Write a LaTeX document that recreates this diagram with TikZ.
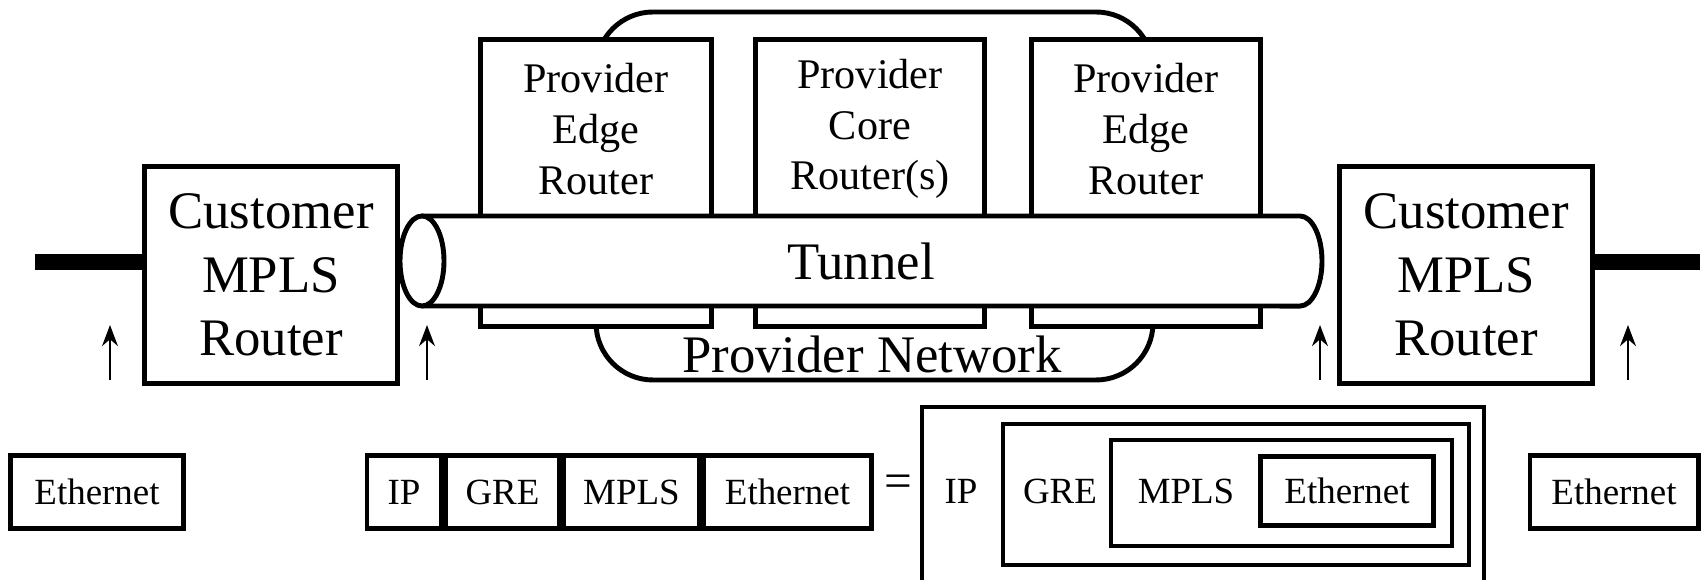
\documentclass[tikz,border=0pt]{standalone}
\usepackage{fontspec}
\setmainfont{Liberation Serif}
\usetikzlibrary{positioning,arrows.meta}

\begin{document}
\begin{tikzpicture}[x=0.01cm,y=-0.01cm,
    line/.style={line width=1.4pt},
    box/.style={draw,line width=1.4pt,fill=white,inner sep=0pt},
    big/.style={font=\fontsize{15}{18}\selectfont,align=center},
    mid/.style={font=\fontsize{12}{14.4}\selectfont,align=center},
    small/.style={font=\fontsize{10.5}{12.6}\selectfont},
    cell/.style={box,small,minimum height=0.73cm},
    wire/.style={line width=4.3pt},
    arr/.style={line width=0.7pt,-{Stealth[length=6pt,width=4.5pt]}}]
		\clip (0,0) rectangle (1705,580);
		% provider network
		\draw [line, rounded corners=0.57cm] (596,12) rectangle (1153,380);
		\node [big] (pntext) at (872,354) {Provider Network};
		
		\node [box, minimum width=2.30cm, minimum height=2.86cm] (pe1) at (596,183) {};
		\node [box, minimum width=2.28cm, minimum height=2.86cm] (pc) at (870,183) {};
		\node [box, minimum width=2.28cm, minimum height=2.86cm] (pe2) at (1146,183) {};
		\node [mid] (pe1text) at (596,129) {Provider\\Edge\\Router};
		\node [mid] (pctext) at (870,129) {Provider\\Core\\Router(s)};
		\node [mid] (pe2text) at (1146,129) {Provider\\Edge\\Router};
		
		% tunnel
		\fill [white] (422,216) rectangle (1300,306);
		\draw [line] (422,216) -- (1300,216) arc [start angle=90, end angle=-90, x radius=0.22cm, y radius=0.45cm] -- (422,306);
		\draw [line, fill=white] (422,261) ellipse [x radius=0.22cm, y radius=0.45cm];
		\node [big] (tuntext) at (861,261) {Tunnel};
		
		% customer routers
		\node [box, big, minimum width=2.52cm, minimum height=2.17cm] (ce1) at (271,275) {Customer\\MPLS\\Router};
		\node [box, big, minimum width=2.52cm, minimum height=2.17cm] (ce2) at (1466,275) {Customer\\MPLS\\Router};
		\coordinate (lw) at (35,262);
		\coordinate (rw) at (1700,262);
		\draw [wire] (lw) -- (lw -| ce1.west);
		\draw [wire] (rw) -- (rw -| ce2.east);
		
		\foreach \x/\n in {110/a, 427/b, 1320/c, 1628/d} {
		\coordinate (\n0) at (\x,380);
		\coordinate (\n1) at (\x,325);
		\draw [arr] (\n0) -- (\n1);
		}
		
		% frames
		\node [cell, minimum width=1.72cm] (eth1) at (97,492) {Ethernet};
		\node [cell, minimum width=1.68cm] (eth2) at (1614,492) {Ethernet};
		
		\node [cell, minimum width=0.74cm] (ip) at (404,492) {IP};
		\node [cell, minimum width=1.13cm, right=0pt of ip] (gre) {GRE};
		\node [cell, minimum width=1.35cm, right=0pt of gre] (mpls) {MPLS};
		\node [cell, minimum width=1.67cm, right=0pt of mpls] (eth) {Ethernet};
		\node [font=\fontsize{14}{14}\selectfont] (eq) at (898,486) {=};
		
		\draw [line] (922,407) rectangle (1484,640);
		\draw [line] (1003,424) rectangle (1469,565);
		\draw [line] (1111,440) rectangle (1452,546);
		\node [box, small, minimum width=1.72cm, minimum height=0.69cm] (ineth) at (1347,491) {Ethernet};
		\node [small] (iniptext) at (961,491) {IP};
		\node [small] (ingretext) at (1060,491) {GRE};
		\node [small] (inmplstext) at (1186,491) {MPLS};
\end{tikzpicture}
\end{document}
